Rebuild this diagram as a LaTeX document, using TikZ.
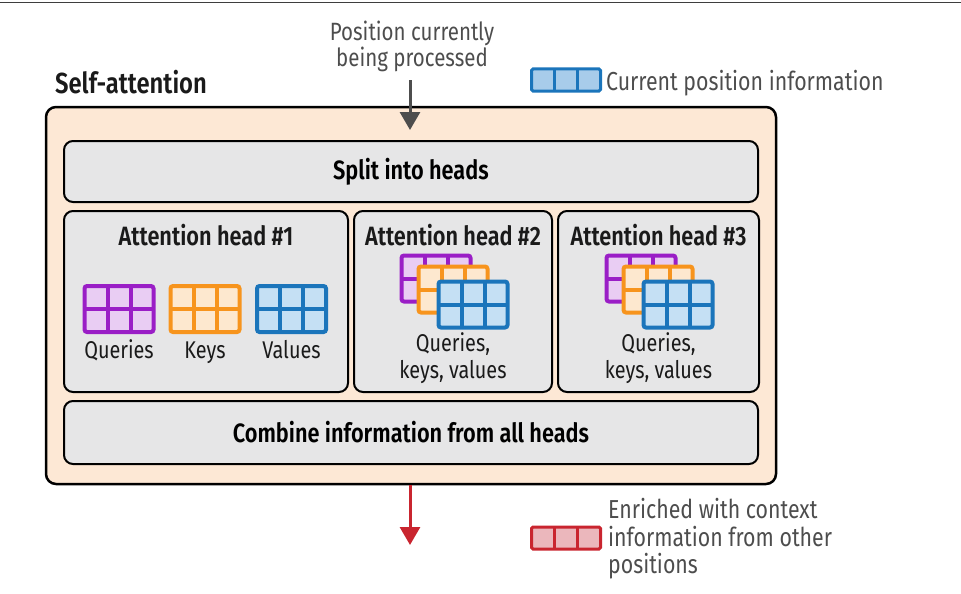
\documentclass[tikz,border=0pt]{standalone}
\usepackage{fontspec}
\setmainfont{Fira Sans}[FakeStretch=0.82, BoldFont={Fira Sans SemiBold}]
\usetikzlibrary{calc,arrows.meta}

\definecolor{peach}{HTML}{FDE8D5}
\definecolor{panelgray}{HTML}{E6E6E7}
\definecolor{qline}{HTML}{9A1EC6}
\definecolor{qfill}{HTML}{E9CDF3}
\definecolor{kline}{HTML}{F7941D}
\definecolor{kfill}{HTML}{FDE8CF}
\definecolor{vline}{HTML}{1B75BB}
\definecolor{vfill}{HTML}{C5E0F4}
\definecolor{legblue}{HTML}{A8CCEA}
\definecolor{redline}{HTML}{C9252F}
\definecolor{redfill}{HTML}{EBB7BC}
\definecolor{inkgray}{HTML}{4D4D4D}
\definecolor{ink}{HTML}{1A1A1A}

\tikzset{
  outerbox/.style={draw=black, fill=peach, line width=2.5, rounded corners=10, inner sep=0},
  panel/.style={draw=black, fill=panelgray, line width=2, rounded corners=9, inner sep=0},
  heading/.style={font=\fontsize{26.5}{30}\selectfont\bfseries, text=ink, inner sep=0},
  label/.style={font=\fontsize{24.2}{27}\selectfont, text=ink, inner sep=0},
  note/.style={font=\fontsize{26}{27.5}\selectfont, text=inkgray, inner sep=0},
  % a 3x2 matrix icon
  matgrid/.style 2 args={draw=#1, fill=#2, line width=4, rounded corners=2.5,
    minimum width=69, minimum height=46, inner sep=0,
    path picture={
      \coordinate (sw) at (path picture bounding box.south west);
      \coordinate (ne) at (path picture bounding box.north east);
      \draw[#1, line width=4]
        ($(sw)!1/3!(sw-|ne)$) -- ($(ne-|sw)!1/3!(ne)$)
        ($(sw)!2/3!(sw-|ne)$) -- ($(ne-|sw)!2/3!(ne)$)
        ($(sw)!.5!(ne-|sw)$) -- ($(sw-|ne)!.5!(ne)$);
    }},
  % a 3x1 strip used in the legend
  strip/.style 2 args={draw=#1, fill=#2, line width=3, rounded corners=1.5,
    minimum width=69, minimum height=22, inner sep=0,
    path picture={
      \coordinate (sw) at (path picture bounding box.south west);
      \coordinate (ne) at (path picture bounding box.north east);
      \draw[#1, line width=3]
        ($(sw)!1/3!(sw-|ne)$) -- ($(ne-|sw)!1/3!(ne)$)
        ($(sw)!2/3!(sw-|ne)$) -- ($(ne-|sw)!2/3!(ne)$);
    }},
  flow/.style={line width=3, -{Triangle[width=20pt,length=18pt]}},
}

\begin{document}
\begin{tikzpicture}[x=1pt, y=-1pt]
\useasboundingbox (0,0) rectangle (961,594);

% top rule
\draw[line width=1.5, inkgray!80!black] (0,2.5) -- (961,2.5);

% input annotation and legend
\node[note, align=center, anchor=north, font=\fontsize{25}{26}\selectfont] (pos) at (412,21)
  {Position currently\\being processed};
\node[heading, anchor=base west, font=\fontsize{29}{30}\selectfont\bfseries] (title) at (55,93) {Self-attention};
\node[strip={vline}{legblue}] (legcur) at (566,80) {};
\node[note, anchor=base west] (legcurtxt) at (606,90.5) {Current position information};

% self-attention block
\node[outerbox, minimum width=730, minimum height=377] (sa) at (411,295.5) {};
\node[panel, minimum width=694, minimum height=61] (split) at (411,171.5)
  {\fontsize{26.5}{30}\selectfont\bfseries Split into heads};
\node[panel, minimum width=284, minimum height=181] (h1) at (206,301.5) {};
\node[panel, minimum width=198, minimum height=181] (h2) at (453,301.5) {};
\node[panel, minimum width=201, minimum height=181] (h3) at (658.5,301.5) {};
\node[panel, minimum width=694, minimum height=63] (comb) at (411,432.5)
  {\fontsize{26.5}{30}\selectfont\bfseries Combine information from all heads};

% head 1: separate matrices
\node[heading, anchor=base] (h1t) at (206,245) {Attention head \#1};
\node[matgrid={qline}{qfill}] (q1) at (119,309) {};
\node[matgrid={kline}{kfill}] (k1) at (205,309) {};
\node[matgrid={vline}{vfill}] (v1) at (291.5,309) {};
\node[label, anchor=base] (q1t) at (119,358) {Queries};
\node[label, anchor=base] (k1t) at (205,358) {Keys};
\node[label, anchor=base] (v1t) at (291.5,358) {Values};

% head 2: stacked matrices
\node[heading, anchor=base] (h2t) at (453,245) {Attention head \#2};
\node[matgrid={qline}{qfill}] (q2) at (436,278.5) {};
\node[matgrid={kline}{kfill}] (k2) at (453,289.5) {};
\node[matgrid={vline}{vfill}] (v2) at (473,304.5) {};
\node[label, align=center, anchor=north] (qkv2) at (453,332.5) {Queries,\\keys, values};

% head 3: stacked matrices
\node[heading, anchor=base] (h3t) at (658.5,245) {Attention head \#3};
\node[matgrid={qline}{qfill}] (q3) at (641,278.5) {};
\node[matgrid={kline}{kfill}] (k3) at (658,289.5) {};
\node[matgrid={vline}{vfill}] (v3) at (678,304.5) {};
\node[label, align=center, anchor=north] (qkv3) at (658.5,332.5) {Queries,\\keys, values};

% flow arrows
\coordinate (intip) at (410,130);
\coordinate (outtip) at (410,545);
\draw[flow, inkgray] (pos.south -| intip) ++(0,8) -- (intip);
\draw[flow, redline] (sa.south -| outtip) -- (outtip);

% output legend
\node[strip={redline}{redfill}] (legout) at (566,538) {};
\node[note, align=left, anchor=north west] (legouttxt) at (608,498.5)
  {Enriched with context\\information from other\\positions};
\end{tikzpicture}
\end{document}
